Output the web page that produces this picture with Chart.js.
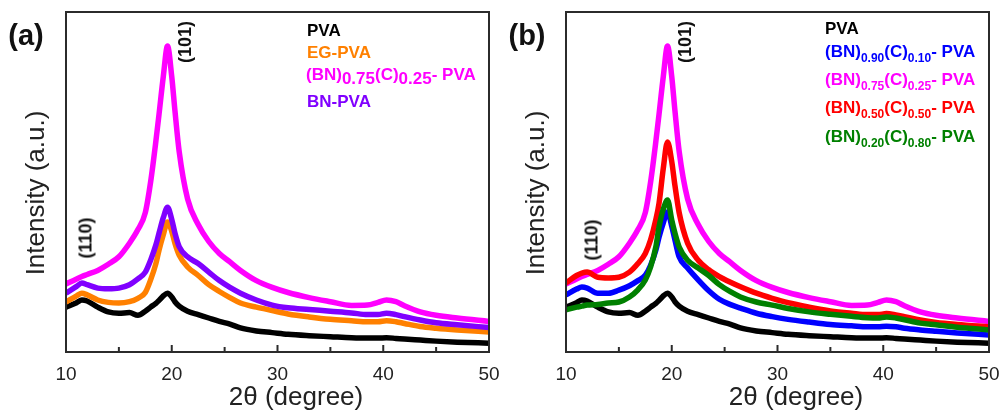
<!DOCTYPE html>
<html>
<head>
<meta charset="utf-8">
<script src="https://cdn.jsdelivr.net/npm/chart.js@4.4.1/dist/chart.umd.min.js"></script>
<style>
  body { margin: 0; background: #fff; }
  #wrap { position: relative; width: 1001px; height: 415px; overflow: hidden; font-family: "Liberation Sans", Arial, sans-serif; }
  .panel { position: absolute; top: 0; width: 500px; height: 415px; }
  .panel canvas { position: absolute; left: 0; top: 0; }
  .txt { position: absolute; white-space: nowrap; transform: translate(-50%, -50%); }
  .rot { transform: translate(-50%, -50%) rotate(-90deg); }
  .ytitle { font-size: 26px; color: #222; }
  .xtitle { font-size: 26px; color: #222; }
  .tag { font-size: 29px; font-weight: bold; color: #111; }
  .hkl { font-size: 18px; font-weight: bold; color: #111; }
  .leg { position: absolute; white-space: nowrap; font-size: 17px; font-weight: bold; line-height: 20px; transform: translateY(-50%); }
  .dn { position: relative; top: 4px; }
  .sb { font-size: 12px; position: relative; top: 5px; }
</style>
</head>
<body>
<div id="wrap">
  <div class="panel" style="left:0">
    <canvas id="chartA" width="500" height="415"></canvas>
    <div class="txt tag" style="left:26px;top:35px">(a)</div>
    <div class="txt rot ytitle" style="left:35px;top:193px">Intensity (a.u.)</div>
    <div class="txt xtitle" style="left:296px;top:396px">2θ (degree)</div>
    <div class="txt rot hkl" style="left:185px;top:42px">(101)</div>
    <div class="txt rot hkl" style="left:86px;top:238px">(110)</div>
    <div class="leg" style="left:307px;top:31px;color:#000">PVA</div>
    <div class="leg" style="left:307px;top:53px;color:#ff8000">EG-PVA</div>
    <div class="leg" style="left:306px;top:75px;color:#ff00ff">(BN)<span class="dn">0.75</span>(C)<span class="dn">0.25</span>- PVA</div>
    <div class="leg" style="left:307px;top:102px;color:#8000ff">BN-PVA</div>
  </div>
  <div class="panel" style="left:500px">
    <canvas id="chartB" width="500" height="415"></canvas>
    <div class="txt tag" style="left:27px;top:35px">(b)</div>
    <div class="txt rot ytitle" style="left:35px;top:193px">Intensity (a.u.)</div>
    <div class="txt xtitle" style="left:296px;top:396px">2θ (degree)</div>
    <div class="txt rot hkl" style="left:185px;top:42px">(101)</div>
    <div class="txt rot hkl" style="left:92px;top:240px">(110)</div>
    <div class="leg" style="left:325px;top:29px;color:#000">PVA</div>
    <div class="leg" style="left:325px;top:52px;color:#0000ff">(BN)<span class="sb">0.90</span>(C)<span class="sb">0.10</span>- PVA</div>
    <div class="leg" style="left:325px;top:80px;color:#ff00ff">(BN)<span class="sb">0.75</span>(C)<span class="sb">0.25</span>- PVA</div>
    <div class="leg" style="left:325px;top:108px;color:#ff0000">(BN)<span class="sb">0.50</span>(C)<span class="sb">0.50</span>- PVA</div>
    <div class="leg" style="left:325px;top:137px;color:#008000">(BN)<span class="sb">0.20</span>(C)<span class="sb">0.80</span>- PVA</div>
  </div>
</div>
<script>
// 2theta positions (degree) shared by all traces
const angles = [10, 11, 11.5, 12, 13, 14, 15, 16, 16.8, 17.5, 18, 18.5, 18.8, 19.2, 19.6, 20, 20.3, 20.7,
  21.5, 22.5, 23.5, 24.5, 25.5, 26.5, 28, 29.5, 31, 33, 35, 37, 38.5, 39.5, 40.3, 41.2, 42, 43.5, 45, 47, 50];

// intensities (arbitrary units)
const pva = [13.2, 14.5, 15.3, 15, 13.2, 11.8, 11.4, 11.6, 10.8, 12, 13.2, 14.3, 15.2, 16.5, 17.3, 16.2, 14.8, 13.5,
  12, 11, 10, 9, 8.2, 7.1, 6.2, 5.7, 5.2, 4.8, 4.5, 4.2, 4.1, 4.1, 4.2, 4, 3.8, 3.5, 3.2, 2.9, 2.6];
const egPva = [14.7, 16.5, 17.3, 16.8, 15.3, 14.6, 14.4, 14.8, 15.8, 17.5, 21.2, 26, 30, 34.5, 38.2, 35.5, 32, 28.5,
  25, 22.5, 19.8, 17.8, 16, 14.4, 13.2, 12.2, 11.2, 10.3, 9.6, 9.2, 8.9, 8.9, 9.2, 8.9, 8.4, 7.5, 7, 6.5, 5.9];
const bnPva = [17.3, 19.3, 20.3, 19.8, 18.8, 18.6, 18.8, 19.8, 21.5, 23.5, 27, 31.5, 35, 39.5, 42.6, 39, 35, 31,
  28, 26, 23.5, 21, 19, 17.3, 15.3, 13.8, 13, 12.5, 12, 11.5, 11, 11, 11.4, 11, 10.4, 9.4, 8.6, 8, 7.2];
const bn75 = [20, 21.5, 22.2, 22.8, 24, 25.8, 28, 32, 36, 41, 50, 62, 70, 81, 90, 81, 71, 59,
  45, 37.5, 32.5, 29, 26.5, 24, 21, 19, 17.5, 16, 14.8, 13.7, 13.8, 14.6, 15.3, 14.8, 13.6, 11.8, 10.8, 10, 9];
const bn90 = [16.8, 18.5, 19.1, 18.8, 17.3, 17.3, 18.2, 19.5, 21, 22.6, 25.5, 30, 33.8, 38, 41.2, 37, 33, 28,
  24.7, 21.2, 18, 15.5, 14, 12.9, 11.4, 10.4, 9.6, 8.8, 8.1, 7.7, 7.4, 7.4, 7.6, 7.4, 7, 6.5, 6.1, 5.6, 5];
const bn50 = [20.3, 22.5, 23.2, 23.5, 22, 21.8, 22, 23.5, 26, 29, 33, 39, 43.8, 54, 61.8, 56, 49, 41,
  32, 27, 24.2, 22.2, 20.6, 19.2, 17.3, 15.8, 14.5, 13.2, 12.1, 11.4, 11, 11, 11.3, 10.9, 10.4, 9.4, 8.7, 8.1, 7.4];
const bn20 = [12.4, 13.2, 13.5, 13.8, 14, 14.4, 14.7, 16.2, 18.3, 21.2, 25, 31, 36.8, 42, 44.7, 38.8, 35, 30.9,
  27, 24.7, 22.5, 19.8, 17.8, 16.2, 14.7, 13.8, 12.8, 11.8, 11.1, 10.5, 10.1, 10, 10.3, 10, 9.5, 8.5, 8, 7.3, 6.5];

const xTicks = [10, 20, 30, 40, 50];

function pts(vals) {
  return angles.map((a, i) => ({ x: a, y: vals[i] }));
}

function line(label, vals, color, order) {
  return {
    label: label,
    data: pts(vals),
    borderColor: color,
    backgroundColor: color,
    borderWidth: 5.5,
    pointRadius: 0,
    cubicInterpolationMode: 'monotone',
    order: order
  };
}

// frame around plot + inward ticks on the bottom axis
const framePlugin = {
  id: 'frame',
  afterDraw(chart) {
    const ctx = chart.ctx;
    const a = chart.chartArea;
    const xs = chart.scales.x;
    ctx.save();
    ctx.strokeStyle = '#2b2b2b';
    ctx.lineWidth = 2;
    for (let v = 10; v <= 50; v += 5) {
      const px = xs.getPixelForValue(v);
      const len = xTicks.includes(v) ? 7 : 5;
      ctx.beginPath();
      ctx.moveTo(px, a.bottom);
      ctx.lineTo(px, a.bottom - len);
      ctx.stroke();
    }
    ctx.strokeRect(a.left, a.top, a.right - a.left, a.bottom - a.top);
    ctx.restore();
  }
};

function makeChart(id, datasets) {
  return new Chart(document.getElementById(id), {
    type: 'line',
    data: { datasets: datasets },
    options: {
      responsive: false,
      animation: false,
      layout: { padding: { left: 66, right: 11, top: 12, bottom: 0 } },
      plugins: { legend: { display: false }, tooltip: { enabled: false } },
      scales: {
        x: {
          type: 'linear',
          min: 10,
          max: 50,
          grid: { display: false, drawTicks: false },
          border: { display: false },
          afterFit(scale) { scale.height = 63; scale.paddingLeft = 0; scale.paddingRight = 0; },
          ticks: {
            stepSize: 5,
            padding: 11,
            color: '#222',
            font: { family: 'Liberation Sans', size: 19 },
            maxRotation: 0,
            autoSkip: false,
            callback: v => xTicks.includes(v) ? String(v) : ''
          }
        },
        y: {
          display: false,
          min: 0,
          max: 100
        }
      }
    },
    plugins: [framePlugin]
  });
}

makeChart('chartA', [
  line('PVA', pva, '#000000', 4),
  line('EG-PVA', egPva, '#ff8000', 2),
  line('(BN)0.75(C)0.25- PVA', bn75, '#ff00ff', 3),
  line('BN-PVA', bnPva, '#8000ff', 1)
]);

makeChart('chartB', [
  line('PVA', pva, '#000000', 5),
  line('(BN)0.90(C)0.10- PVA', bn90, '#0000ff', 2),
  line('(BN)0.75(C)0.25- PVA', bn75, '#ff00ff', 4),
  line('(BN)0.50(C)0.50- PVA', bn50, '#ff0000', 3),
  line('(BN)0.20(C)0.80- PVA', bn20, '#008000', 1)
]);
</script>
</body>
</html>
